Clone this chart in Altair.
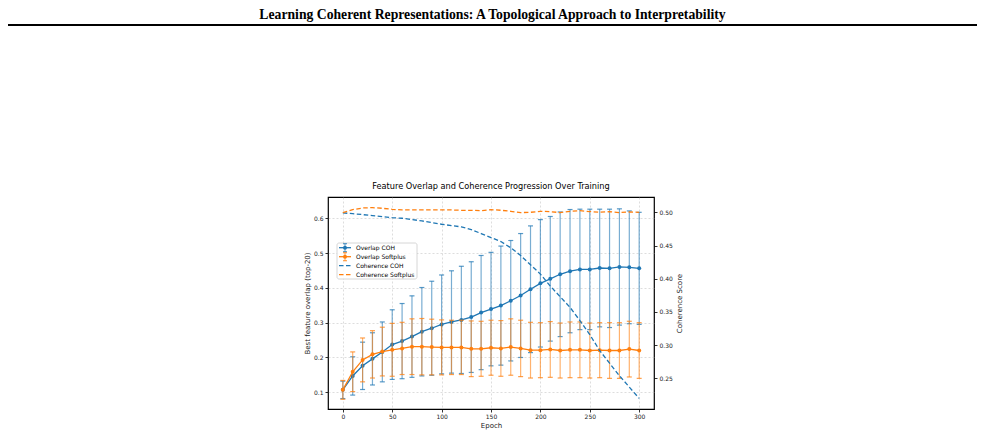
import altair as alt
import pandas as pd

# ---- data -----------------------------------------------------------------
epochs = list(range(0, 301, 10))

overlap_coh_mean = [0.107, 0.147, 0.176, 0.196, 0.216, 0.237, 0.247, 0.260, 0.274, 0.284,
                    0.295, 0.302, 0.308, 0.316, 0.329, 0.339, 0.349, 0.363, 0.378, 0.396,
                    0.413, 0.426, 0.439, 0.448, 0.453, 0.453, 0.457, 0.456, 0.460, 0.459, 0.456]
overlap_coh_std = [0.025, 0.055, 0.068, 0.075, 0.086, 0.100, 0.108, 0.117, 0.127, 0.135,
                   0.142, 0.147, 0.154, 0.159, 0.164, 0.163, 0.171, 0.173, 0.178, 0.182,
                   0.183, 0.179, 0.179, 0.177, 0.173, 0.173, 0.169, 0.170, 0.167, 0.162, 0.161]

overlap_sp_mean = [0.107, 0.159, 0.193, 0.209, 0.217, 0.222, 0.226, 0.231, 0.231, 0.230,
                   0.229, 0.229, 0.229, 0.225, 0.225, 0.228, 0.226, 0.230, 0.226, 0.221,
                   0.221, 0.223, 0.220, 0.222, 0.222, 0.220, 0.221, 0.220, 0.220, 0.224, 0.220]
overlap_sp_std = [0.027, 0.057, 0.063, 0.068, 0.070, 0.076, 0.075, 0.080, 0.081, 0.080,
                  0.079, 0.078, 0.078, 0.080, 0.079, 0.079, 0.080, 0.081, 0.081, 0.080,
                  0.079, 0.080, 0.079, 0.080, 0.080, 0.079, 0.079, 0.080, 0.080, 0.080, 0.080]

coherence_coh = [0.499, 0.498, 0.4965, 0.495, 0.4935, 0.492, 0.491, 0.489, 0.487, 0.4845,
                 0.482, 0.480, 0.478, 0.474, 0.468, 0.462, 0.456, 0.4466, 0.435, 0.421,
                 0.407, 0.389, 0.373, 0.357, 0.337, 0.316, 0.292, 0.273, 0.254, 0.237, 0.220]
coherence_sp = [0.4995, 0.504, 0.5065, 0.507, 0.506, 0.5045, 0.5035, 0.5035, 0.5035, 0.5035,
                0.5035, 0.5035, 0.503, 0.503, 0.5025, 0.504, 0.503, 0.5015, 0.4995, 0.500,
                0.5015, 0.501, 0.4995, 0.5015, 0.5025, 0.501, 0.500, 0.501, 0.4995, 0.5005, 0.500]

x_ticks = [0, 50, 100, 150, 200, 250, 300]
left_ticks = [0.1, 0.2, 0.3, 0.4, 0.5, 0.6]
right_ticks = [0.25, 0.30, 0.35, 0.40, 0.45, 0.50]

BLUE = "#1f77b4"
ORANGE = "#ff7f0e"

n = len(epochs)
overlap = pd.DataFrame({
    "epoch": epochs * 2,
    "series": ["Overlap COH"] * n + ["Overlap Softplus"] * n,
    "mean": overlap_coh_mean + overlap_sp_mean,
    "std": overlap_coh_std + overlap_sp_std,
})
overlap["lo"] = overlap["mean"] - overlap["std"]
overlap["hi"] = overlap["mean"] + overlap["std"]

coherence = pd.DataFrame({
    "epoch": epochs * 2,
    "series": ["Coherence COH"] * n + ["Coherence Softplus"] * n,
    "score": coherence_coh + coherence_sp,
})

single = pd.DataFrame({"k": [0]})

# ---- scales / axes ----------------------------------------------------------
# every layer carries its own (identical) scales; only one layer draws each axis
x_scale = alt.Scale(domain=[-15, 315], nice=False, zero=False)
left_scale = alt.Scale(domain=[0.052, 0.661], nice=False, zero=False)
right_scale = alt.Scale(domain=[0.204, 0.523], nice=False, zero=False)


def x_enc(with_axis=False):
    axis = alt.Axis(values=x_ticks, format="d", title="Epoch", grid=True,
                    labelPadding=1.5, titlePadding=2) if with_axis else None
    return alt.X("epoch:Q", scale=x_scale, axis=axis)


def left_enc(field, with_axis=False):
    axis = alt.Axis(values=left_ticks, format=".1f", title="Best feature overlap (top-20)",
                    grid=True, orient="left", titlePadding=3) if with_axis else None
    return alt.Y(field, type="quantitative", scale=left_scale, axis=axis)


def overlap_layers(name, color, first):
    base = alt.Chart(overlap).transform_filter(alt.datum.series == name)
    bars = base.mark_rule(color=color, strokeWidth=1.2, opacity=0.6).encode(
        x=x_enc(first), y=left_enc("lo", first), y2="hi:Q")
    cap_lo = base.mark_tick(orient="horizontal", size=5, thickness=1.2,
                            color=color, opacity=0.75).encode(x=x_enc(), y=left_enc("lo"))
    cap_hi = base.mark_tick(orient="horizontal", size=5, thickness=1.2,
                            color=color, opacity=0.75).encode(x=x_enc(), y=left_enc("hi"))
    line = base.mark_line(color=color, strokeWidth=1.3).encode(x=x_enc(), y=left_enc("mean"))
    pts = base.mark_point(filled=True, size=16, color=color, opacity=1).encode(
        x=x_enc(), y=left_enc("mean"))
    return [bars, cap_lo, cap_hi, line, pts]


def coherence_line(name, color, first):
    axis = alt.Axis(values=right_ticks, format=".2f", title="Coherence Score",
                    grid=False, orient="right", titleAngle=270,
                    titleBaseline="top", titlePadding=3) if first else None
    return alt.Chart(coherence).transform_filter(alt.datum.series == name).mark_line(
        color=color, strokeWidth=1.3, strokeDash=[4.5, 2.5]
    ).encode(x=x_enc(), y=alt.Y("score:Q", scale=right_scale, axis=axis))


data_layers = (
    overlap_layers("Overlap COH", BLUE, True)
    + overlap_layers("Overlap Softplus", ORANGE, False)
    + [coherence_line("Coherence COH", BLUE, True),
       coherence_line("Coherence Softplus", ORANGE, False)]
)

# ---- legend (drawn in pixel space inside the plot) -------------------------
legend_rows = [
    ("Overlap COH", BLUE, "errorbar"),
    ("Overlap Softplus", ORANGE, "errorbar"),
    ("Coherence COH", BLUE, "dashed"),
    ("Coherence Softplus", ORANGE, "dashed"),
]
row_y0, row_step = 50.7, 9.0
legend_layers = [
    alt.Chart(single).mark_rect(fill="white", fillOpacity=0.85, stroke="#cccccc",
                                strokeWidth=0.8, cornerRadius=2).encode(
        x=alt.value(9), x2=alt.value(89), y=alt.value(46), y2=alt.value(82))
]
for i, (label, color, kind) in enumerate(legend_rows):
    yy = row_y0 + i * row_step
    if kind == "errorbar":
        legend_layers += [
            alt.Chart(single).mark_rule(color=color, strokeWidth=1.2, opacity=0.6).encode(
                x=alt.value(17), y=alt.value(yy - 4), y2=alt.value(yy + 4)),
            alt.Chart(single).mark_rule(color=color, strokeWidth=1.2, opacity=0.75).encode(
                x=alt.value(15), x2=alt.value(19), y=alt.value(yy - 4)),
            alt.Chart(single).mark_rule(color=color, strokeWidth=1.2, opacity=0.75).encode(
                x=alt.value(15), x2=alt.value(19), y=alt.value(yy + 4)),
            alt.Chart(single).mark_rule(color=color, strokeWidth=1.3).encode(
                x=alt.value(11), x2=alt.value(23), y=alt.value(yy)),
            alt.Chart(single).mark_point(filled=True, size=16, color=color, opacity=1).encode(
                x=alt.value(17), y=alt.value(yy)),
        ]
    else:
        legend_layers.append(
            alt.Chart(single).mark_rule(color=color, strokeWidth=1.3, strokeDash=[4.5, 2.5]).encode(
                x=alt.value(11), x2=alt.value(23), y=alt.value(yy)))
    legend_layers.append(
        alt.Chart(single).mark_text(align="left", baseline="middle", fontSize=6,
                                    font="DejaVu Sans", color="black", text=label).encode(
            x=alt.value(28), y=alt.value(yy)))

# ---- titles above the figure -------------------------------------------------
chart_title = alt.Chart(single).mark_text(
    align="center", baseline="alphabetic", font="DejaVu Sans", fontSize=8.2, color="black",
    text="Feature Overlap and Coherence Progression Over Training",
).encode(x=alt.value(163), y=alt.value(-8))
heading = alt.Chart(single).mark_text(
    align="center", baseline="alphabetic", font="Liberation Serif", fontWeight="bold",
    fontSize=13.7, color="black",
    text="Learning Coherent Representations: A Topological Approach to Interpretability",
).encode(x=alt.value(164.5), y=alt.value(-178.5))
heading_rule = alt.Chart(single).mark_rule(color="black", strokeWidth=2).encode(
    x=alt.value(-320), x2=alt.value(649), y=alt.value(-172))

chart = alt.layer(
    *data_layers, *legend_layers, chart_title, heading, heading_rule
).resolve_scale(
    x="independent", y="independent"
).properties(
    width=326,
    height=212,
    background="white",
    autosize=alt.AutoSizeParams(type="none"),
    padding={"left": 328, "top": 197, "right": 331, "bottom": 26},
).configure_axis(
    labelFont="DejaVu Sans", titleFont="DejaVu Sans", labelFontSize=6, titleFontSize=7,
    titleFontWeight="normal", labelColor="#222222", titleColor="#222222",
    tickColor="black", tickSize=3, tickWidth=0.8, domain=False,
    gridColor="#b8b8b8", gridDash=[2, 2], gridOpacity=0.8, gridWidth=0.6,
    labelPadding=2, titlePadding=4,
).configure_view(
    stroke="black", strokeWidth=1.2
)

chart.save("out.html", embed_options={"renderer": "svg", "actions": False})
